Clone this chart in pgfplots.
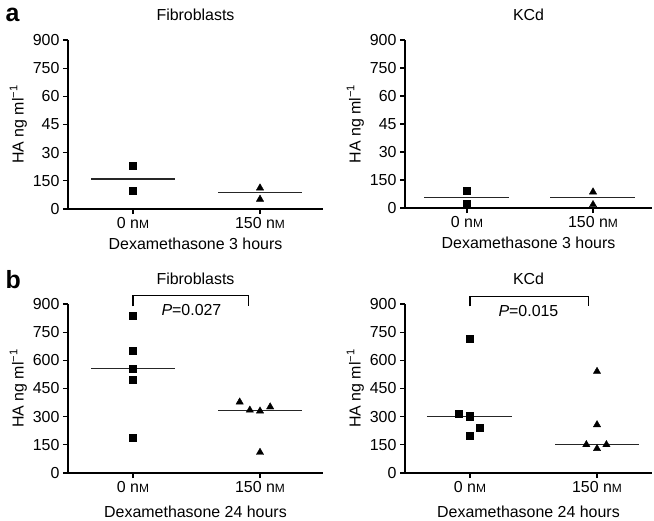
\documentclass[border=0pt]{standalone}
\usepackage{fontspec}
\setmainfont{Liberation Sans}
\usepackage{pgfplots}
\pgfplotsset{compat=1.18}

\newcommand{\nM}{n{\fontsize{12}{12}\selectfont M}}

\pgfplotsset{
  panel/.style={
    scale only axis,
    anchor=south west,
    axis lines=left,
    axis line style={line width=1.8bp, -},
    ymin=0, ymax=900,
    ytick={0,150,300,450,600,750,900},
    xtick={0,1},
    xticklabels={0 \nM,150 \nM},
    tick style={line width=1.3bp, black},
    tick align=outside,
    major tick length=5bp,
    tick label style={font=\fontsize{16}{18}\selectfont},
    label style={font=\fontsize{16}{18}\selectfont},
    title style={font=\fontsize{16}{18}\selectfont, at={(axis description cs:0.5,1)}, anchor=south, yshift=10bp},
    ylabel={HA ng ml\textsuperscript{−1}},
    ylabel style={yshift=-1bp},
    xlabel style={yshift=-2bp},
    clip=false,
  },
  sq/.style={only marks, mark=square*, mark size=3.6bp, black},
  tri/.style={only marks, mark=triangle*, mark size=4.2bp, black},
  med/.style={black!85, line width=1.2bp, no marks},
}

\begin{document}
\begin{tikzpicture}
\useasboundingbox (0,0) rectangle (654bp,-521bp);

\node[font=\bfseries\fontsize{25}{25}\selectfont, anchor=base west] at (2bp,-21bp) {a};
\node[font=\bfseries\fontsize{25}{25}\selectfont, anchor=base west] at (2bp,-288bp) {b};

% a, Fibroblasts 3 h
\begin{axis}[panel, at={(68bp,-209bp)}, width=255bp, height=169bp,
  xmin=-0.512, xmax=1.496,
  yticklabels={0,150,30,45,60,750,900},
  title={Fibroblasts}, xlabel={Dexamethasone 3 hours}]
  \addplot[sq] coordinates {(0,231) (0,96)};
  \addplot[tri] coordinates {(1,112) (1,52)};
  \addplot[med] coordinates {(-0.33,160) (0.33,160)};
  \addplot[med] coordinates {(0.67,89) (1.33,89)};
\end{axis}

% a, KCd 3 h
\begin{axis}[panel, at={(405bp,-208bp)}, width=247bp, height=168bp,
  xmin=-0.492, xmax=1.468,
  yticklabels={0,150,30,45,60,750,900},
  title={KCd}, xlabel={Dexamethasone 3 hours}]
  \addplot[sq] coordinates {(0,93) (0,22)};
  \addplot[tri] coordinates {(1,86) (1,18)};
  \addplot[med] coordinates {(-0.34,57) (0.33,57)};
  \addplot[med] coordinates {(0.66,57) (1.33,57)};
\end{axis}

% b, Fibroblasts 24 h
\begin{axis}[panel, at={(68bp,-473bp)}, width=255bp, height=169bp,
  xmin=-0.512, xmax=1.496,
  yticklabels={0,150,300,450,600,750,900},
  title={Fibroblasts}, xlabel={Dexamethasone 24 hours}, xlabel style={yshift=-4bp}]
  \addplot[sq] coordinates {(0,839) (0,653) (0,557) (0,497) (0,186)};
  \addplot[tri] coordinates {(0.84,378) (0.92,335) (1,330) (1.08,352) (1,110)};
  \addplot[med] coordinates {(-0.33,557) (0.33,557)};
  \addplot[med] coordinates {(0.67,334) (1.33,334)};
  \draw[black, line width=1.2bp] (axis cs:0,888) -- (axis cs:0,944) -- (axis cs:0.91,944) -- (axis cs:0.91,888);
  \node[font=\fontsize{16}{18}\selectfont] at (axis cs:0.46,868) {\textit{P}=0.027};
\end{axis}

% b, KCd 24 h
\begin{axis}[panel, at={(405bp,-473bp)}, width=247bp, height=169bp,
  xmin=-0.512, xmax=1.433,
  yticklabels={0,150,300,450,600,750,900},
  title={KCd}, xlabel={Dexamethasone 24 hours}, xlabel style={yshift=-4bp}]
  \addplot[sq] coordinates {(0,715) (-0.087,316) (0,302) (0.074,243) (0,200)};
  \addplot[tri] coordinates {(1,541) (1,257) (0.916,151) (1,130) (1.074,151)};
  \addplot[med] coordinates {(-0.34,300) (0.33,300)};
  \addplot[med] coordinates {(0.67,151) (1.33,151)};
  \draw[black, line width=1.2bp] (axis cs:0,888) -- (axis cs:0,941) -- (axis cs:0.93,941) -- (axis cs:0.93,888);
  \node[font=\fontsize{16}{18}\selectfont] at (axis cs:0.46,861) {\textit{P}=0.015};
\end{axis}
\end{tikzpicture}
\end{document}
